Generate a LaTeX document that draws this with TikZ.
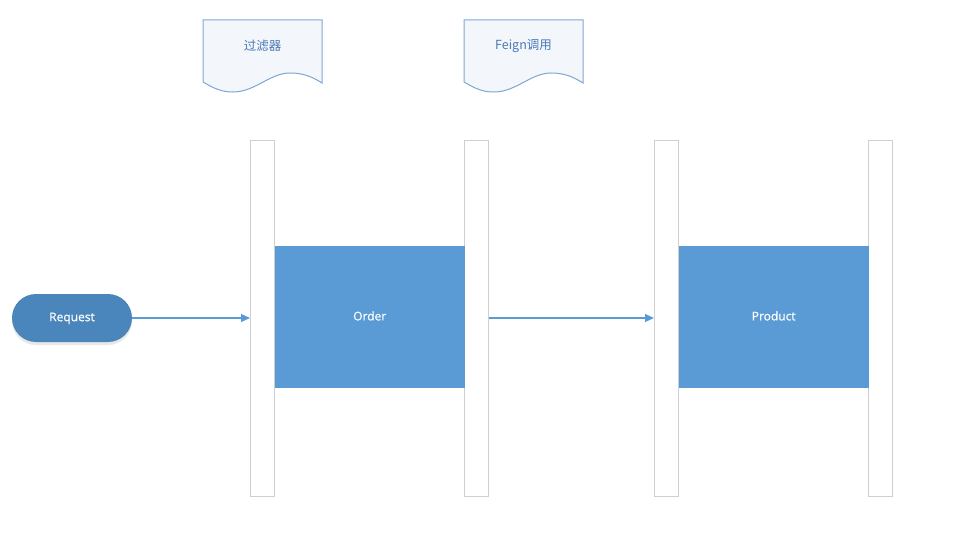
\documentclass[tikz,border=0pt]{standalone}
\usepackage{fontspec}
\setmainfont{Open Sans}[FakeBold=0.6]
\newfontfamily\cjk{Noto Sans CJK SC}
\usetikzlibrary{arrows.meta,shadows,calc}
\definecolor{boxblue}{HTML}{5B9BD5}
\definecolor{reqblue}{HTML}{4A86BC}
\definecolor{docline}{HTML}{7FA7D3}
\definecolor{docfill}{HTML}{F3F6FB}
\definecolor{doctext}{HTML}{4A7AB5}
\definecolor{bargray}{HTML}{CFCFCF}
\tikzset{
  lane/.style={draw=bargray, line width=0.9pt, fill=white, minimum width=24pt, minimum height=356pt, inner sep=0pt, anchor=north west},
  bluebox/.style={fill=boxblue, draw=none, minimum width=190pt, minimum height=142pt, inner sep=0pt, anchor=north west},
  boxlabel/.style={text=white, font=\fontsize{12}{14}\selectfont, text height=9pt, text depth=2.6pt, inner sep=0pt},
  reqbox/.style={fill=reqblue, draw=none, rounded corners=24pt, minimum width=120pt, minimum height=48pt, inner sep=0pt, text=white, font=\fontsize{12}{14}\selectfont, text height=9pt, text depth=2.6pt, drop shadow={opacity=0.18, shadow xshift=0pt, shadow yshift=-3pt}},
  flow/.style={draw=boxblue, line width=1.3pt, -{Triangle[length=9pt,width=8pt]}},
  docshape/.style={draw=docline, line width=1pt, fill=docfill},
  doclabel/.style={text=doctext, font=\cjk\fontsize{12.5}{14}\selectfont}
}
\begin{document}
\begin{tikzpicture}[x=1pt,y=-1pt]
\useasboundingbox (0,0) rectangle (974,551);
% documents
\draw[docshape] (203,82) -- (203,20) -- (322,20) -- (322,83)
  .. controls (314,78) and (305,73) .. (290,73)
  .. controls (270,73) and (255,92) .. (233,92)
  .. controls (222,92) and (215,89) .. (203,82) -- cycle;
\node[doclabel] (doc1) at (262.5,46) {过滤器};
\draw[docshape] (464,82) -- (464,20) -- (583,20) -- (583,83)
  .. controls (575,78) and (566,73) .. (551,73)
  .. controls (531,73) and (516,92) .. (494,92)
  .. controls (483,92) and (476,89) .. (464,82) -- cycle;
\node[doclabel] (doc2) at (523.5,46) {Feign调用};
% lanes
\node[lane] (b1) at (250,140) {};
\node[lane] (b2) at (464,140) {};
\node[lane] (b3) at (654,140) {};
\node[lane] (b4) at (868,140) {};
% boxes
\node[bluebox] (order) at (274.5,246) {};
\node[boxlabel] (orderlbl) at (order.center) {Order};
\node[bluebox] (product) at (678.5,246) {};
\node[boxlabel] (productlbl) at (product.center) {Product};
% request
\node[reqbox] (req) at (72,318) {Request};
% arrows
\draw[flow] (req.east) -- (req.east -| b1.west);
\draw[flow] (b2.east |- req.east) -- (b3.west |- req.east);
\end{tikzpicture}
\end{document}
